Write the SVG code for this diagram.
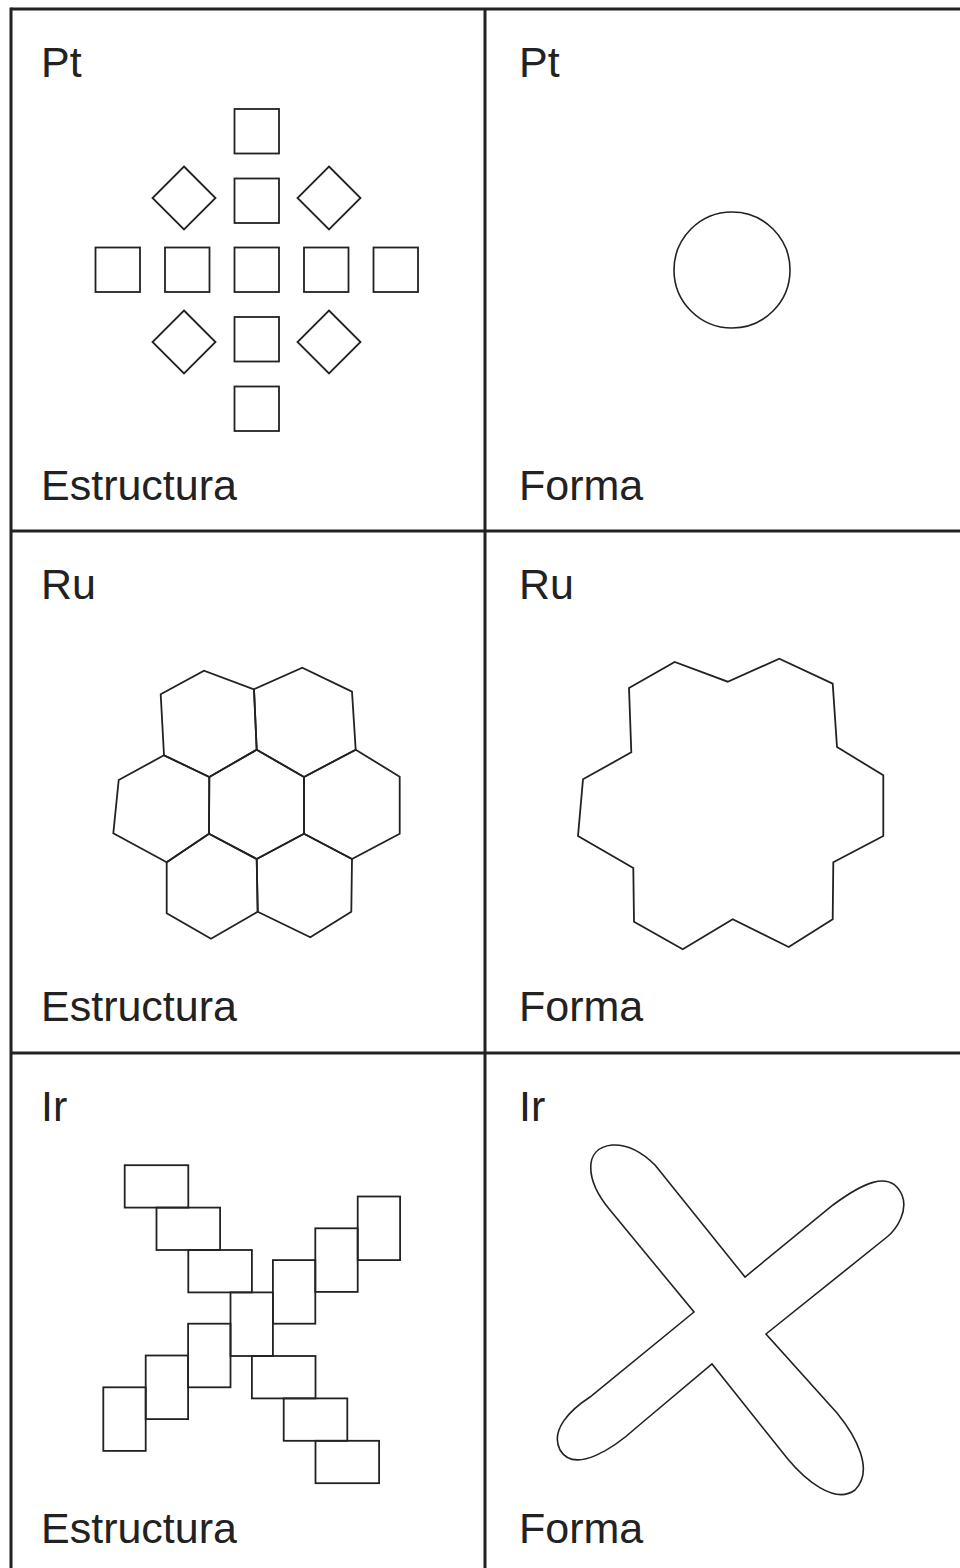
<svg xmlns="http://www.w3.org/2000/svg" width="960" height="1568" viewBox="0 0 960 1568">
<style>
.lbl{font-family:"Liberation Sans",Arial,sans-serif;font-size:43px;fill:#222}
.grid{stroke:#222;stroke-width:3;fill:none}
.sh{stroke:#222;stroke-width:1.8;fill:none;stroke-linejoin:miter}
.thin{stroke:#222;stroke-width:1.6;fill:none}
</style>
<rect width="960" height="1568" fill="#fff"/>
<g id="grid">
<line class="grid" x1="11" y1="9" x2="960" y2="9"/>
<line class="grid" x1="11" y1="7.5" x2="11" y2="1568"/>
<line class="grid" x1="485" y1="9" x2="485" y2="1568"/>
<line class="grid" x1="11" y1="531" x2="960" y2="531"/>
<line class="grid" x1="11" y1="1053" x2="960" y2="1053"/>
</g>
<g id="cell-pt-estructura">
<text class="lbl" x="41" y="77">Pt</text>
<text class="lbl" x="41" y="500">Estructura</text>
<g class="sh">
<rect x="234.5" y="109" width="44.5" height="44.5"/>
<rect x="234.5" y="178.5" width="44.5" height="44.5"/>
<rect x="95.5" y="247.5" width="44.5" height="44.5"/>
<rect x="165" y="247.5" width="44.5" height="44.5"/>
<rect x="234.5" y="247.5" width="44.5" height="44.5"/>
<rect x="304" y="247.5" width="44.5" height="44.5"/>
<rect x="373.5" y="247.5" width="44.5" height="44.5"/>
<rect x="234.5" y="317" width="44.5" height="44.5"/>
<rect x="234.5" y="386.5" width="44.5" height="44.5"/>
<polygon points="184,166.5 215.5,198 184,229.5 152.5,198"/>
<polygon points="329,166.5 360.5,198 329,229.5 297.5,198"/>
<polygon points="184,310.5 215.5,342 184,373.5 152.5,342"/>
<polygon points="329,310.5 360.5,342 329,373.5 297.5,342"/>
</g>
</g>
<g id="cell-pt-forma">
<text class="lbl" x="519" y="77">Pt</text>
<text class="lbl" x="519" y="500">Forma</text>
<circle class="thin" cx="732" cy="270" r="58"/>
</g>
<g id="cell-ru-estructura">
<text class="lbl" x="41" y="599">Ru</text>
<text class="lbl" x="41" y="1021">Estructura</text>
<g class="sh">
<polygon points="160.7,694.3 204,670.7 254,689.3 256.7,749.7 209.3,777 164,755.3"/>
<polygon points="254,689.3 302.3,667.7 352,691.7 355.7,749.7 304,777 256.7,749.7"/>
<polygon points="164,755.3 209.3,777 209,833.7 166.7,862.3 113.3,833.3 118.7,780"/>
<polygon points="256.7,749.7 304,777 304,833.7 256.7,859 209,833.7 209.3,777"/>
<polygon points="355.7,749.7 399.7,776.7 399.7,833.7 352,859 304,833.7 304,777"/>
<polygon points="166.7,862.3 209,833.7 256.7,859 257.7,911.7 211,938.7 166.7,913.3"/>
<polygon points="256.7,859 304,833.7 352,859 351.3,911.7 310.3,937.3 257.7,911.7"/>
</g>
</g>
<g id="cell-ru-forma">
<text class="lbl" x="519" y="599">Ru</text>
<text class="lbl" x="519" y="1021">Forma</text>
<polygon class="sh" points="629,688 674.7,662 727.7,681.7 779.3,658.7 832.7,683.7 837,747 883.3,775.3 883.3,836 833.3,862.3 832.7,919.3 788.7,947 732.7,919.3 682.7,949.3 634,921.7 633.3,868 578,836 583,779.3 631.3,752.3"/>
</g>
<g id="cell-ir-estructura">
<text class="lbl" x="41" y="1121">Ir</text>
<text class="lbl" x="41" y="1543">Estructura</text>
<g class="sh">
<rect x="124.7" y="1165.2" width="63.6" height="42.4"/>
<rect x="156.5" y="1207.6" width="63.6" height="42.4"/>
<rect x="188.3" y="1250" width="63.6" height="42.4"/>
<rect x="230.5" y="1292.4" width="42.4" height="63.6"/>
<rect x="251.9" y="1356" width="63.6" height="42.4"/>
<rect x="283.7" y="1398.4" width="63.6" height="42.4"/>
<rect x="315.5" y="1440.8" width="63.6" height="42.4"/>
<rect x="272.9" y="1260.1" width="42.4" height="63.6"/>
<rect x="315.3" y="1228.3" width="42.4" height="63.6"/>
<rect x="357.7" y="1196.5" width="42.4" height="63.6"/>
<rect x="188.1" y="1323.7" width="42.4" height="63.6"/>
<rect x="145.7" y="1355.5" width="42.4" height="63.6"/>
<rect x="103.3" y="1387.3" width="42.4" height="63.6"/>
</g>
</g>
<g id="cell-ir-forma">
<text class="lbl" x="519" y="1121">Ir</text>
<text class="lbl" x="519" y="1543">Forma</text>
<path class="thin" d="M655,1165 L745,1277 L833,1205 C860,1185 890,1168 902,1195 C908,1210 898,1228 887,1237 L766,1334 L837,1413 C855,1435 875,1470 855,1490 C835,1505 805,1480 787,1458 L712,1364 L637,1427 C615,1447 575,1475 560,1450 C550,1430 570,1410 590,1397 L694,1312 L610,1210 C585,1180 583,1148 612,1145 C630,1144 645,1155 655,1165 Z"/>
</g>
</svg>
